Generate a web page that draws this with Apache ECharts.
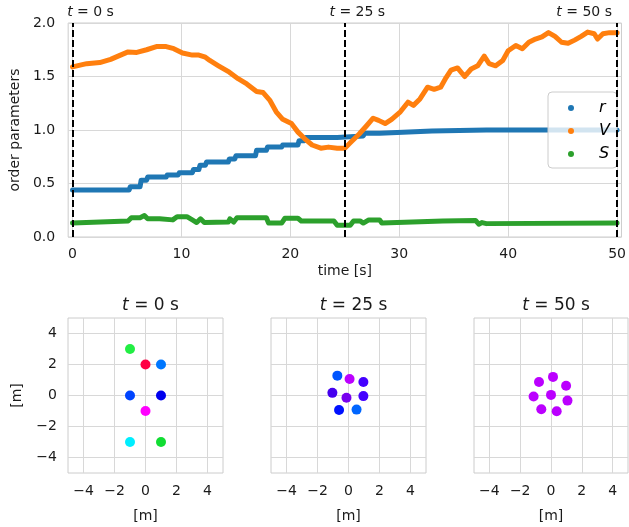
<!DOCTYPE html>
<html>
<head>
<meta charset="utf-8">
<script src="https://cdn.jsdelivr.net/npm/echarts@6/dist/echarts.min.js"></script>
<style>
  html, body { margin: 0; padding: 0; background: #fff; }
  #main { width: 629px; height: 527px; }
</style>
</head>
<body>
<div id="main"></div>
<script>
// order parameters over time, [t (s), value]
const rData = [[0,0.44],[5.2,0.44],[5.3,0.47],[6.2,0.47],[6.3,0.53],[6.8,0.53],[6.9,0.56],[8.6,0.56],[8.7,0.58],[9.7,0.58],[9.8,0.60],[11.0,0.60],[11.1,0.63],[11.6,0.63],[11.7,0.67],[12.2,0.67],[12.3,0.70],[14.3,0.70],[14.4,0.73],[14.9,0.73],[15.0,0.76],[16.8,0.76],[16.9,0.81],[17.8,0.81],[17.9,0.84],[19.2,0.84],[19.3,0.86],[20.7,0.86],[20.8,0.90],[21.3,0.90],[21.4,0.93],[24.3,0.93],[24.4,0.945],[26.7,0.945],[26.8,0.97],[28.2,0.97],[28.3,0.985],[33,0.99],[38,1.0],[50,1.0]]

const vData = [[0,1.59],[1.3,1.62],[2.5,1.63],[3.5,1.66],[4.4,1.70],[5.1,1.73],[5.9,1.725],[6.8,1.75],[7.7,1.78],[8.6,1.78],[9.3,1.76],[10.1,1.72],[11,1.70],[11.6,1.70],[12.2,1.68],[12.6,1.65],[13.4,1.60],[14.4,1.54],[15.2,1.48],[16,1.43],[16.9,1.36],[17.5,1.35],[18.1,1.28],[18.7,1.17],[19.3,1.10],[20.1,1.06],[20.7,0.98],[21.3,0.92],[22.0,0.86],[22.8,0.83],[23.5,0.84],[24.3,0.83],[25,0.83],[25.5,0.88],[26.3,0.96],[27.0,1.04],[27.6,1.11],[28.1,1.09],[28.7,1.06],[29.3,1.10],[30.1,1.17],[30.8,1.26],[31.3,1.23],[31.9,1.29],[32.6,1.40],[33.2,1.38],[33.8,1.40],[34.3,1.49],[34.75,1.56],[35.35,1.58],[36,1.50],[36.6,1.57],[37.2,1.60],[37.8,1.69],[38.25,1.62],[38.85,1.60],[39.5,1.65],[40,1.74],[40.7,1.79],[41.3,1.76],[41.9,1.82],[42.5,1.85],[43.1,1.87],[43.7,1.91],[44.3,1.875],[44.9,1.82],[45.5,1.81],[46.1,1.84],[46.7,1.875],[47.3,1.915],[47.9,1.90],[48.2,1.85],[48.7,1.90],[49.3,1.91],[50,1.91]]

const sData = [[0,0.13],[5.1,0.15],[5.4,0.18],[6.2,0.18],[6.6,0.20],[6.9,0.17],[8,0.17],[9.2,0.16],[9.6,0.19],[10.5,0.19],[11.0,0.16],[11.4,0.135],[11.75,0.17],[12.1,0.135],[14.3,0.14],[14.45,0.17],[14.8,0.14],[15.1,0.18],[17.8,0.18],[18.0,0.13],[19.2,0.13],[19.5,0.175],[20.7,0.175],[21.0,0.15],[24.0,0.15],[24.3,0.11],[25.5,0.11],[25.8,0.15],[26.4,0.15],[26.7,0.13],[27.2,0.16],[28.2,0.16],[28.4,0.13],[34,0.15],[37,0.155],[37.3,0.12],[37.6,0.135],[38,0.125],[50,0.13]]

// snapshot times and tick values
const snapTimes = [0, 25, 50]
const timeTicks = [0, 10, 20, 30, 40, 50]
const posTicks = [-4, -2, 0, 2, 4]

// agent positions [x, y] in m and their colours at each snapshot
const pos0 = [[-1,3],[0,2],[1,2],[-1,0],[1,0],[0,-1],[-1,-3],[1,-3]]
const col0 = ['#22ee44','#ff0044','#0077ff','#0044ff','#0000ee','#ff00ff','#00eeff','#11dd33']
const pos25 = [[-0.72,1.28],[0.07,1.07],[0.96,0.87],[-1.04,0.17],[-0.13,-0.15],[0.96,-0.04],[-0.61,-0.93],[0.52,-0.91]]
const col25 = ['#0055ff','#bb00ff','#4400ff','#4400ee','#7700ee','#4400ff','#0011ff','#0066ff']
const pos50 = [[-0.78,0.87],[0.13,1.2],[0.98,0.63],[-1.13,-0.07],[0,0.04],[1.07,-0.33],[-0.63,-0.89],[0.37,-1.02]]
const col50 = ['#bb00ff','#bb00ff','#bb00ff','#bb00ff','#bb00ff','#bb00ff','#bb00ff','#bb00ff']

const FONT = 'DejaVu Sans'
const gridCol = '#d8d8d8'
const borderCol = '#cccccc'
const txtCol = '#1a1a1a'
const minus = v => String(v).replace('-', '\u2212')

const snapGrids = [
  { left: 68, top: 318, width: 155, height: 155 },
  { left: 271, top: 318, width: 155, height: 155 },
  { left: 474, top: 318, width: 154, height: 155 }
]
const snapPos = [pos0, pos25, pos50]
const snapCol = [col0, col25, col50]

const italic = { fontStyle: 'italic', fontFamily: FONT }

function posAxis (i, isY) {
  return {
    type: 'value',
    gridIndex: i + 1,
    min: -5,
    max: 5,
    axisLine: { show: false },
    axisTick: { show: false, customValues: posTicks },
    axisLabel: {
      show: !isY || i === 0,
      customValues: posTicks,
      formatter: minus,
      fontSize: 14,
      fontFamily: FONT,
      color: txtCol,
      margin: 11
    },
    splitLine: { show: true, lineStyle: { color: gridCol, width: 1 } },
    name: (!isY || i === 0) ? '[m]' : '',
    nameLocation: 'middle',
    nameGap: isY ? 44 : 36,
    nameTextStyle: { fontSize: 14, fontFamily: FONT, color: txtCol }
  }
}

const chart = echarts.init(document.getElementById('main'))

const option = {
  animation: false,
  backgroundColor: '#fff',
  title: snapTimes.map((t, i) => ({
    text: '{i|t} = ' + t + ' s',
    left: snapGrids[i].left + snapGrids[i].width / 2,
    top: 292,
    textAlign: 'center',
    textStyle: {
      fontSize: 17, fontWeight: 'normal', fontFamily: FONT, color: txtCol,
      rich: { i: Object.assign({ fontSize: 17, color: txtCol }, italic) }
    }
  })),
  // legend box is laid out from the dot's left edge, so the dot sits at padding-left
  legend: {
    data: ['r', 'V', 'S'],
    orient: 'vertical',
    left: 548,
    top: 92,
    icon: 'circle',
    itemWidth: 46,
    itemHeight: 6,
    itemGap: 5,
    padding: [7, 7, 5, 20],
    backgroundColor: 'rgba(255,255,255,0.8)',
    borderColor: '#cccccc',
    borderWidth: 1,
    borderRadius: 4,
    textStyle: {
      fontSize: 16, fontStyle: 'italic', fontFamily: FONT, color: '#000',
      lineHeight: 18
    }
  },
  grid: [{ left: 67, top: 23, width: 558, height: 214, show: true, borderColor: borderCol, borderWidth: 1 }]
    .concat(snapGrids.map(g => Object.assign({ show: true, borderColor: borderCol, borderWidth: 1 }, g))),
  xAxis: [{
    type: 'value',
    gridIndex: 0,
    min: -0.4,
    max: 50.4,
    axisLine: { show: false },
    axisTick: { show: false, customValues: timeTicks },
    axisLabel: { customValues: timeTicks, fontSize: 14, fontFamily: FONT, color: txtCol, margin: 10 },
    splitLine: { show: true, lineStyle: { color: gridCol, width: 1 } },
    name: 'time [s]',
    nameLocation: 'middle',
    nameGap: 27,
    nameTextStyle: { fontSize: 14, fontFamily: FONT, color: txtCol }
  }].concat(snapGrids.map((g, i) => posAxis(i, false))),
  yAxis: [{
    type: 'value',
    gridIndex: 0,
    min: 0,
    max: 2,
    interval: 0.5,
    axisLine: { show: false },
    axisTick: { show: false },
    axisLabel: { formatter: v => v.toFixed(1), fontSize: 14, fontFamily: FONT, color: txtCol, margin: 13 },
    splitLine: { show: true, lineStyle: { color: gridCol, width: 1 } },
    name: 'order parameters',
    nameLocation: 'middle',
    nameGap: 40,
    nameTextStyle: { fontSize: 14, fontFamily: FONT, color: txtCol }
  }].concat(snapGrids.map((g, i) => posAxis(i, true))),
  series: [
    { name: 'r', type: 'line', data: rData, color: '#1f77b4', showSymbol: false,
      lineStyle: { width: 5, cap: 'round', join: 'round' } },
    { name: 'V', type: 'line', data: vData, color: '#ff7f0e', showSymbol: false,
      lineStyle: { width: 5, cap: 'round', join: 'round' } },
    { name: 'S', type: 'line', data: sData, color: '#2ca02c', showSymbol: false,
      lineStyle: { width: 5, cap: 'round', join: 'round' } },
    // dashed markers at the snapshot times
    {
      name: 'snap', type: 'line', data: [], z: 5,
      markLine: {
        silent: true,
        symbol: 'none',
        animation: false,
        lineStyle: { color: '#000', type: [7, 3], width: 2 },
        data: snapTimes.map((t, i) => ({
          xAxis: t,
          label: {
            show: true,
            position: 'end',
            distance: 4,
            formatter: '{i|t} = ' + t + ' s',
            fontSize: 14, fontFamily: FONT, color: txtCol,
            padding: [[0, 0, 0, 36], [0, 0, 0, 25], [0, 66, 0, 0]][i],
            rich: { i: Object.assign({ fontSize: 14, color: txtCol }, italic) }
          }
        }))
      }
    }
  ].concat(snapPos.map((pos, i) => ({
    type: 'scatter',
    xAxisIndex: i + 1,
    yAxisIndex: i + 1,
    symbolSize: 10,
    data: pos.map((p, j) => ({ value: p, itemStyle: { color: snapCol[i][j], opacity: 1 } }))
  })))
}

chart.setOption(option)
</script>
</body>
</html>
